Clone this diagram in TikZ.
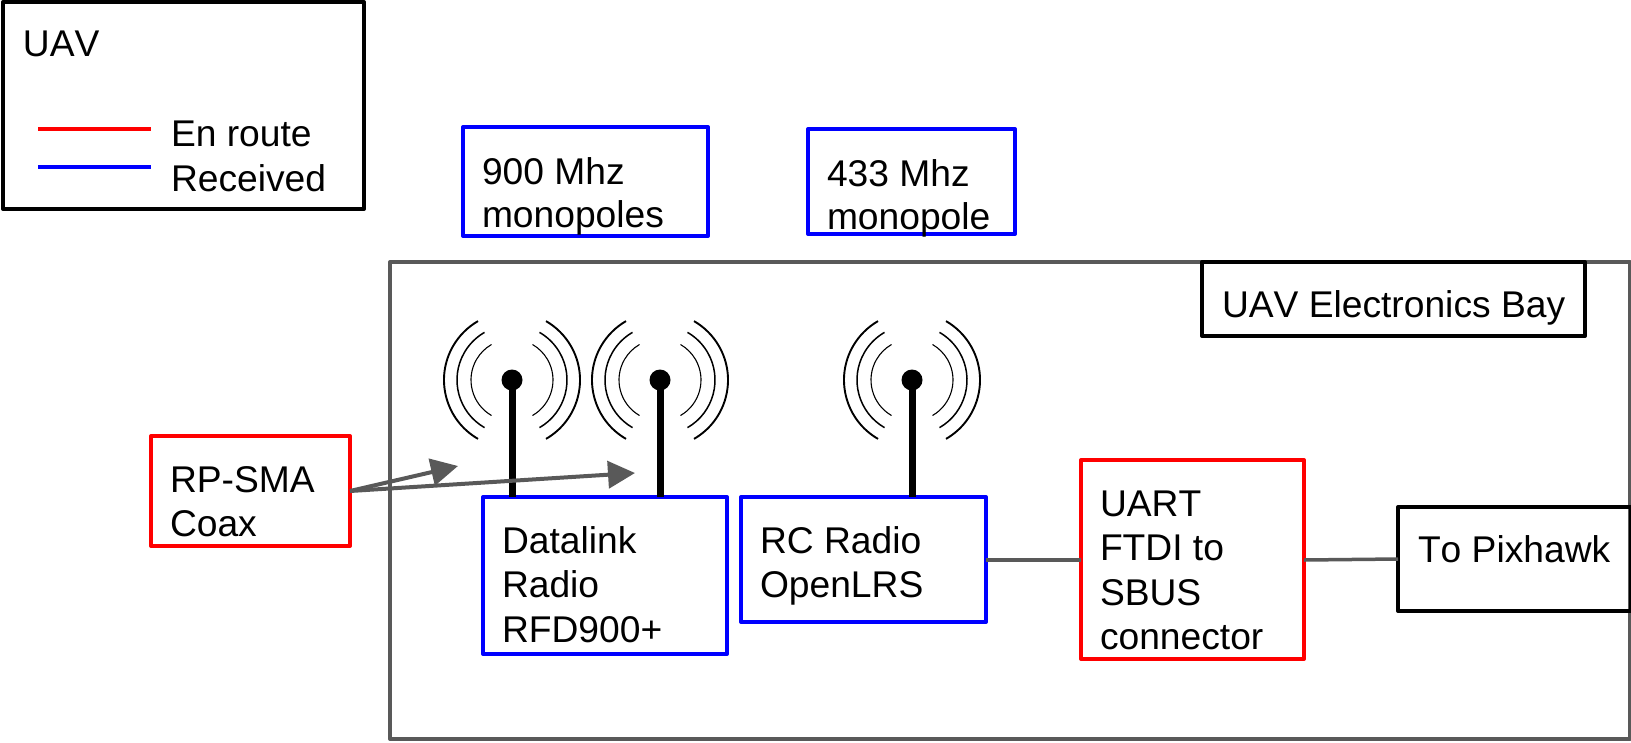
\documentclass[tikz,border=0pt]{standalone}
\usepackage{fontspec}
\setmainfont[Kerning=Off]{Liberation Sans}
\usetikzlibrary{arrows.meta}
\definecolor{lineGray}{HTML}{595959}
\definecolor{pureBlue}{HTML}{0000FF}
\definecolor{pureRed}{HTML}{FF0000}
\tikzset{
  x=1pt,y=-1pt,
  base/.style={line width=4pt,line join=round,rectangle,inner sep=0pt,outer sep=0pt,
     font=\fontsize{37.2}{44.5}\selectfont},
  bluebox/.style={base,draw=pureBlue},
  redbox/.style={base,draw=pureRed},
  blackbox/.style={base,draw=black},
  graybox/.style={base,draw=lineGray},
  label text/.style={inner sep=0pt,outer sep=0pt,anchor=base west,font=\fontsize{37.2}{44.5}\selectfont},
  link/.style={line width=3.5pt,draw=lineGray},
  coax/.style={line width=4pt,draw=lineGray,-{Triangle[length=27pt,width=27pt]}},
  mast/.style={line width=7pt,draw=black},
  tipdot/.style={circle,fill=black,minimum size=21pt,inner sep=0pt,outer sep=0pt},
}
% name, x1, y1, x2, y2, style, left pad, first baseline below top / text
\newcommand{\bx}[9]{%
  \pgfmathsetmacro{\cxx}{(#2+#4)/2}\pgfmathsetmacro{\cyy}{(#3+#5)/2}%
  \pgfmathsetmacro{\ww}{#4-#2}\pgfmathsetmacro{\hh}{#5-#3}\pgfmathsetmacro{\tw}{#4-#2-#7}%
  \node[#6,minimum width=\ww pt,minimum height=\hh pt] (#1) at (\cxx,\cyy)
    {\hspace*{#7pt}\parbox[c][\hh pt][t]{\tw pt}{\raggedright\rule{0pt}{#8pt}#9}};}
% waves around a named dot
\newcommand{\waves}[1]{%
  \foreach \r/\w in {41/1.1,55/1.5,68/1.9}{%
    \draw[line width=\w pt,black] (#1.center) ++(60:\r) arc[start angle=60,end angle=-60,x radius=\r pt,y radius=-\r pt];
    \draw[line width=\w pt,black] (#1.center) ++(120:\r) arc[start angle=120,end angle=240,x radius=\r pt,y radius=-\r pt];
  }}
\begin{document}
\begin{tikzpicture}
\useasboundingbox (0,0) rectangle (1631,742);
\node[graybox,minimum width=1240pt,minimum height=477pt] (bay) at (1010,500.5) {};
\node[blackbox,minimum width=361pt,minimum height=207pt] (legend) at (183.5,105.5) {};
\node[label text] (uavt) at (23,56) {UAV};
\coordinate (r1) at (38,129); \coordinate (r2) at (151,129);
\coordinate (b1) at (38,167); \coordinate (b2) at (151,167);
\draw[line width=4pt,pureRed] (r1) -- (r2);
\draw[line width=4pt,pureBlue] (b1) -- (b2);
\node[label text] (enr) at (171,146) {En route};
\node[label text] (rec) at (171,191) {Received};

\bx{m900}{463}{127}{708}{236}{bluebox}{19}{57}{900 Mhz\\[-1pt]monopoles}
\bx{m433}{808}{129}{1015}{234}{bluebox}{19}{57}{433 Mhz\\[-1pt]monopole}
\bx{ueb}{1202}{262}{1585}{336}{blackbox}{20}{55}{UAV Electronics Bay}
\bx{coaxb}{151}{436}{350}{546}{redbox}{19}{56}{RP-SMA\\Coax}
\bx{dl}{483}{497}{727}{654}{bluebox}{19}{56}{Datalink\\Radio\\RFD900+}
\bx{rc}{741}{497}{986}{622}{bluebox}{19}{56}{RC Radio\\OpenLRS}
\bx{uart}{1081}{460}{1304}{659}{redbox}{19}{56}{UART\\FTDI to\\SBUS\\connector}
\bx{pix}{1398}{507}{1631}{611}{blackbox}{20}{55}{To Pixhawk}

\node[tipdot] (a1) at (512,380) {};
\node[tipdot] (a2) at (660,380) {};
\node[tipdot] (a3) at (912,380) {};
\draw[mast] (a1.center) -- (a1.center |- dl.north);
\draw[mast] (a2.center) -- (a2.center |- dl.north);
\draw[mast] (a3.center) -- (a3.center |- rc.north);
\waves{a1}\waves{a2}\waves{a3}

\coordinate (t1) at (458,466);
\coordinate (t2) at (635,473);
\draw[coax] (coaxb.east) -- (t1);
\draw[coax] (coaxb.east) -- (t2);
\draw[link] (rc.east |- 0,560) -- (uart.west |- 0,560);
\draw[link] (uart.east |- 0,560) -- (pix.west |- 0,559);
\end{tikzpicture}
\end{document}
